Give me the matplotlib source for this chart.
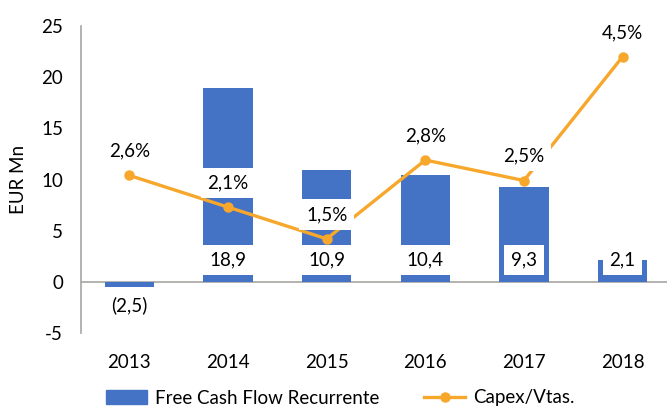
import matplotlib.pyplot as plt
from matplotlib.patches import Patch
from matplotlib.lines import Line2D

plt.rcParams['font.family'] = ['Lato', 'DejaVu Sans']
plt.rcParams['axes.unicode_minus'] = False

years = ['2013', '2014', '2015', '2016', '2017', '2018']
fcf = [-0.5, 18.9, 10.9, 10.4, 9.3, 2.1]
fcf_labels = ['(2,5)', '18,9', '10,9', '10,4', '9,3', '2,1']
capex = [10.4, 7.3, 4.2, 11.9, 9.9, 22.0]
capex_labels = ['2,6%', '2,1%', '1,5%', '2,8%', '2,5%', '4,5%']

blue = '#4472C4'
orange = '#F7A72B'
grey = '#A8A5A2'
fs = 13.5

fig = plt.figure(figsize=(6.67, 4.09), dpi=100)
ax = fig.add_axes([81 / 667, 1 - 333 / 409, 1 - 81 / 667, (333 - 26) / 409])

x = list(range(len(years)))
ax.bar(x, fcf, width=0.5, color=blue, zorder=2)
ax.plot(x, capex, color=orange, lw=2.4, marker='o', markersize=6.5, zorder=3)

box = dict(boxstyle='square,pad=0.35', fc='white', ec='none')
for xi, v, lab in zip(x, fcf, fcf_labels):
    if v >= 0:
        ax.text(xi, 2.1, lab, ha='center', va='center', fontsize=fs, bbox=box, zorder=4)
    else:
        ax.annotate(lab, (xi, v), xytext=(0, -13), textcoords='offset points',
                    ha='center', va='center', fontsize=fs, zorder=4)

for xi, v, lab in zip(x, capex, capex_labels):
    ax.annotate(lab, (xi, v), xytext=(0, 17.5), textcoords='offset points',
                ha='center', va='center', fontsize=fs, bbox=box, zorder=5)

ax.set_xlim(-0.49, 5.45)
ax.set_ylim(-5, 25)
ax.set_yticks(range(-5, 26, 5))
ax.set_xticks(x)
ax.set_xticklabels(years)
ax.axhline(0, color=grey, lw=1.2, zorder=1)
ax.tick_params(axis='both', length=0, labelsize=fs)
ax.tick_params(axis='x', pad=15)
ax.tick_params(axis='y', pad=13)
for s in ['top', 'right', 'bottom']:
    ax.spines[s].set_visible(False)
ax.spines['left'].set_color(grey)
ax.spines['left'].set_linewidth(1.2)
ax.set_ylabel('EUR Mn', fontsize=fs, labelpad=10)

handles = [Patch(color=blue, label='Free Cash Flow Recurrente'),
           Line2D([], [], color=orange, lw=2.4, marker='o', markersize=6.5, label='Capex/Vtas.')]
fig.legend(handles=handles, loc='center', bbox_to_anchor=(0.51, 1 - 398 / 409), ncol=2,
           frameon=False, fontsize=fs, handlelength=2.2, handleheight=0.8,
           columnspacing=2.4, handletextpad=0.4)

fig.savefig('out.png', dpi=100)
